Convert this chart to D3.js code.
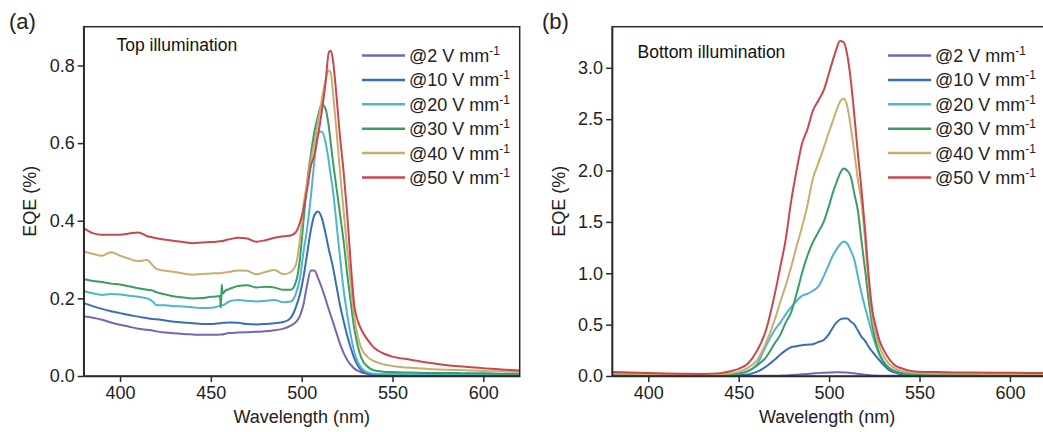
<!DOCTYPE html>
<html><head><meta charset="utf-8">
<script src="https://cdn.jsdelivr.net/npm/d3@7"></script>
<style>
html,body{margin:0;padding:0;background:#fff;}
svg{display:block;font-family:"Liberation Sans",Arial,sans-serif;}
</style></head>
<body>
<svg id="chart" width="1043" height="432"></svg>
<script>
// ---------- DATA ----------
const fields = [2, 10, 20, 30, 40, 50];
const colors = ["#7467b0", "#3a6db5", "#4fb5cf", "#3a9e62", "#c9ad6e", "#c9474f"];
const xTicks = [400, 450, 500, 550, 600];
const yTicksTop = [0, 0.2, 0.4, 0.6, 0.8];
const yTicksBottom = [0, 0.5, 1.0, 1.5, 2.0, 2.5, 3.0];

// (a) Top illumination
const wlTop = [380,385,390,395,400,405,410,415,418,420,425,430,435,440,445,450,453,455,455.5,456,456.5,458,460,465,470,475,480,485,490,494,497,499,501,503,505,507,509,511,513,515,516,517,519,521,523,525,527,529,531,533,536,540,545,550,560,570,580,590,600,610,620];
const top2  = [.153,.150,.145,.138,.132,.127,.122,.119,.117,.115,.112,.110,.108,.107,.106,.106,.106,.107,.107,.107,.107,.109,.111,.112,.113,.114,.115,.118,.122,.130,.140,.155,.185,.235,.272,.272,.252,.228,.200,.170,.156,.142,.113,.084,.060,.042,.029,.019,.013,.009,.006,.004,.003,.003,.003,.003,.003,.003,.003,.003,.003];
const top10 = [.188,.180,.173,.167,.162,.157,.153,.149,.147,.146,.143,.140,.138,.136,.134,.134,.135,.136,.136,.136,.137,.137,.138,.137,.134,.133,.134,.136,.139,.150,.180,.210,.255,.315,.375,.415,.424,.408,.370,.325,.305,.285,.235,.185,.143,.105,.072,.045,.026,.014,.006,.003,.002,.002,.002,.002,.002,.002,.002,.002,.002];
const top20 = [.219,.213,.209,.211,.210,.207,.204,.200,.192,.183,.182,.180,.179,.177,.175,.176,.178,.181,.181,.182,.182,.186,.192,.196,.194,.192,.194,.196,.190,.192,.215,.250,.320,.380,.460,.555,.625,.630,.605,.550,.515,.485,.400,.310,.225,.160,.105,.060,.035,.020,.010,.006,.005,.005,.004,.004,.004,.004,.004,.004,.004];
const top30 = [.250,.245,.242,.238,.236,.231,.226,.222,.220,.216,.210,.205,.202,.200,.201,.204,.205,.206,.176,.236,.212,.220,.224,.232,.234,.228,.230,.228,.222,.222,.245,.300,.400,.500,.570,.630,.670,.700,.690,.640,.600,.560,.490,.420,.350,.265,.190,.120,.075,.045,.025,.014,.011,.010,.009,.008,.008,.007,.007,.006,.006];
const top40 = [.321,.315,.310,.319,.310,.302,.296,.299,.285,.276,.271,.268,.264,.261,.263,.264,.265,.265,.265,.265,.266,.267,.268,.272,.271,.262,.268,.273,.262,.268,.290,.350,.440,.500,.555,.600,.655,.710,.760,.788,.782,.740,.640,.530,.430,.330,.240,.150,.100,.070,.050,.038,.030,.026,.021,.018,.016,.015,.013,.012,.011];
const top50 = [.381,.368,.364,.364,.364,.367,.370,.360,.357,.355,.351,.348,.345,.342,.344,.345,.346,.347,.347,.348,.348,.350,.352,.356,.354,.346,.350,.356,.360,.362,.372,.395,.430,.480,.540,.570,.620,.680,.750,.835,.838,.820,.730,.620,.530,.420,.290,.180,.140,.118,.095,.072,.058,.050,.042,.034,.028,.024,.020,.017,.014];

// (b) Bottom illumination
const wlBottom = [380,390,400,410,420,430,440,445,450,455,460,465,470,473,476,479,482,485,488,491,494,497,500,502,504,506,508,510,512,514,516,518,520,522,524,526,528,530,533,536,540,545,550,560,570,580,590,600,610,620];
const bot2  = [.002,.002,.002,.002,.002,.002,.002,.002,.002,.002,.002,.002,.002,.004,.006,.009,.012,.016,.020,.024,.028,.031,.034,.035,.036,.036,.035,.033,.030,.026,.021,.016,.012,.009,.006,.004,.003,.002,.002,.002,.002,.002,.002,.002,.002,.002,.002,.002,.002,.002];
const bot10 = [.003,.003,.003,.003,.003,.003,.003,.003,.008,.015,.040,.090,.160,.210,.250,.280,.290,.300,.305,.310,.330,.350,.410,.470,.520,.550,.560,.560,.530,.500,.440,.380,.340,.280,.235,.190,.150,.110,.060,.035,.015,.008,.005,.004,.004,.004,.004,.004,.004,.004];
const bot20 = [.005,.005,.005,.005,.005,.005,.005,.010,.020,.050,.110,.290,.450,.520,.600,.670,.730,.780,.800,.830,.870,.970,1.09,1.17,1.23,1.28,1.31,1.29,1.22,1.13,.960,.800,.660,.530,.400,.290,.200,.140,.080,.050,.030,.015,.010,.008,.008,.008,.008,.008,.008,.008];
const bot30 = [.010,.010,.010,.010,.010,.010,.010,.015,.025,.045,.100,.180,.320,.400,.520,.620,.800,1.00,1.17,1.30,1.40,1.50,1.66,1.78,1.88,1.97,2.02,2.00,1.94,1.77,1.60,1.30,1.02,.720,.480,.320,.210,.140,.080,.050,.030,.020,.015,.012,.010,.010,.010,.010,.010,.010];
const bot40 = [.025,.022,.020,.018,.016,.015,.018,.025,.040,.080,.150,.320,.550,.720,.880,1.06,1.26,1.45,1.66,1.92,2.07,2.22,2.38,2.48,2.58,2.67,2.70,2.63,2.42,2.17,1.90,1.68,1.30,.880,.560,.400,.280,.200,.120,.080,.050,.035,.028,.024,.022,.021,.020,.020,.020,.020];
const bot50 = [.040,.035,.030,.025,.022,.020,.028,.045,.070,.120,.240,.440,.800,1.06,1.33,1.70,2.00,2.26,2.40,2.58,2.68,2.78,2.95,3.07,3.18,3.26,3.25,3.13,2.88,2.53,2.15,1.80,1.40,.950,.630,.470,.340,.260,.170,.110,.075,.050,.042,.038,.035,.033,.032,.031,.030,.030];

// ---------- DRAW ----------
const svg = d3.select("#chart");
const FONT = '"Liberation Sans",Arial,sans-serif';

function panel(opt) {
  const x = d3.scaleLinear().domain([380, 620]).range([opt.x0, opt.x1]);
  const y = d3.scaleLinear().domain(opt.yDomain).range([opt.y1, opt.y0]);
  const g = svg.append("g");
  const clipId = "clip" + opt.id;
  svg.append("defs").append("clipPath").attr("id", clipId)
    .append("rect").attr("x", opt.x0).attr("y", opt.y0)
    .attr("width", opt.x1 - opt.x0).attr("height", opt.y1 - opt.y0);

  const line = d3.line().x(d => x(d[0])).y(d => y(d[1])).curve(d3.curveMonotoneX);
  const lg = g.append("g").attr("clip-path", `url(#${clipId})`);
  opt.series.forEach((vals, i) => {
    const pts = opt.wl.map((w, k) => [w, vals[k]]);
    lg.append("path").datum(pts).attr("d", line)
      .attr("fill", "none").attr("stroke", colors[i]).attr("stroke-width", 2)
      .attr("stroke-linejoin", "round");
  });

  // frame
  g.append("rect").attr("x", opt.x0).attr("y", opt.y0)
    .attr("width", opt.x1 - opt.x0).attr("height", opt.y1 - opt.y0)
    .attr("fill", "none").attr("stroke", "#2a2a2a").attr("stroke-width", 1.5);

  const xa = g.append("g").attr("transform", `translate(0,${opt.y1})`)
    .call(d3.axisBottom(x).tickValues(xTicks).tickSize(6).tickSizeOuter(0).tickPadding(4));
  const ya = g.append("g").attr("transform", `translate(${opt.x0},0)`)
    .call(d3.axisLeft(y).tickValues(opt.yTicks).tickFormat(d3.format(".1f")).tickSize(6).tickSizeOuter(0).tickPadding(3));
  [xa, ya].forEach(a => {
    a.select(".domain").attr("stroke", "#2a2a2a").attr("stroke-width", 1.5);
    a.selectAll(".tick line").attr("stroke", "#2a2a2a").attr("stroke-width", 1.5);
    a.selectAll(".tick text").attr("fill", "#222").style("font-size", "18px").style("font-family", FONT);
  });

  g.append("text").attr("x", (opt.x0 + opt.x1) / 2 - (opt.id === "b" ? 2 : 0)).attr("y", 423)
    .attr("text-anchor", "middle").style("font-size", "18px").attr("fill", "#222")
    .text("Wavelength (nm)");
  g.append("text").attr("transform", `translate(${opt.ylabX},${(opt.y0 + opt.y1) / 2}) rotate(-90)`)
    .attr("text-anchor", "middle").style("font-size", "18px").attr("fill", "#222")
    .text("EQE (%)");
  g.append("text").attr("x", opt.tagX).attr("y", 29).style("font-size", "22px").attr("fill", "#222")
    .text(opt.tag);
  g.append("text").attr("x", opt.titleX).attr("y", opt.titleY).style("font-size", "17.5px").attr("fill", "#111")
    .text(opt.title);

  // legend
  const leg = g.append("g");
  fields.forEach((f, i) => {
    const yy = 55.5 + i * 24.4;
    leg.append("line").attr("x1", opt.legX).attr("x2", opt.legX + 43)
      .attr("y1", yy).attr("y2", yy).attr("stroke", colors[i]).attr("stroke-width", 2.5);
    const t = leg.append("text").attr("x", opt.legX + 47).attr("y", yy + 6.5)
      .style("font-size", "18px").attr("fill", "#222");
    t.append("tspan").text(`@${f} V mm`);
    t.append("tspan").attr("dy", -7).style("font-size", "12px").text("-1");
  });
}

panel({
  id: "a", x0: 83.7, x1: 519.7, y0: 26.7, y1: 376, yDomain: [0, 0.9], yTicks: yTicksTop,
  wl: wlTop, series: [top2, top10, top20, top30, top40, top50],
  ylabX: 36, tagX: 9, tag: "(a)", titleX: 116.5, titleY: 50.5, title: "Top illumination",
  legX: 362
});
panel({
  id: "b", x0: 612.1, x1: 1046.1, y0: 26.7, y1: 376, yDomain: [0, 3.4], yTicks: yTicksBottom,
  wl: wlBottom, series: [bot2, bot10, bot20, bot30, bot40, bot50],
  ylabX: 565, tagX: 542, tag: "(b)", titleX: 637.5, titleY: 58, title: "Bottom illumination",
  legX: 888
});
</script>
</body></html>
